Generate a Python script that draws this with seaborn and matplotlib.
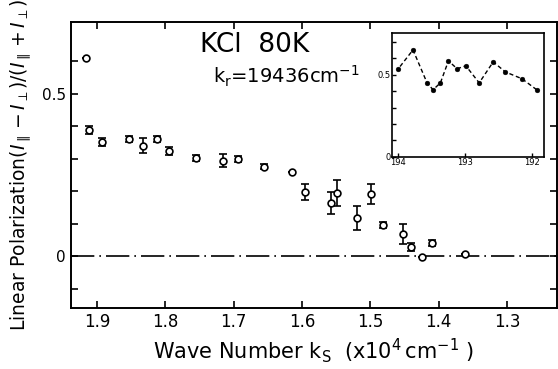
import numpy as np
import pandas as pd
import seaborn as sns
import matplotlib.pyplot as plt

# main panel: linear polarization vs scattered wave number (x10^4 cm^-1)
ks = [1.916, 1.912, 1.893, 1.853, 1.833, 1.812, 1.795, 1.755, 1.716, 1.694,
      1.655, 1.615, 1.596, 1.558, 1.548, 1.519, 1.499, 1.481, 1.452, 1.440,
      1.424, 1.410, 1.362]
pol = [0.610, 0.389, 0.352, 0.361, 0.340, 0.361, 0.324, 0.302, 0.293, 0.299,
       0.275, 0.259, 0.198, 0.164, 0.194, 0.117, 0.191, 0.096, 0.068, 0.028,
       -0.003, 0.040, 0.006]
err = [0.0, 0.012, 0.012, 0.010, 0.022, 0.010, 0.012, 0.008, 0.020, 0.010,
       0.008, 0.0, 0.025, 0.033, 0.040, 0.036, 0.031, 0.010, 0.030, 0.012,
       0.0, 0.010, 0.0]

# inset curve
ins_k = [194.0, 193.78, 193.57, 193.48, 193.37, 193.25, 193.12, 192.99,
         192.79, 192.58, 192.40, 192.15, 191.93]
ins_p = [0.537, 0.652, 0.451, 0.409, 0.451, 0.585, 0.537, 0.555, 0.451,
         0.579, 0.518, 0.476, 0.409]

data = pd.DataFrame({'ks': ks, 'pol': pol, 'err': err})
inset = pd.DataFrame({'k': ins_k, 'p': ins_p})

sns.set_style('ticks')
plt.rcParams['font.family'] = ['DejaVu Sans']
plt.rcParams['xtick.direction'] = 'in'
plt.rcParams['ytick.direction'] = 'in'
for k in ['text.color', 'axes.labelcolor', 'xtick.color', 'ytick.color', 'axes.edgecolor']:
    plt.rcParams[k] = 'black'

fig = plt.figure(figsize=(5.58, 3.69), dpi=100)
ax = fig.add_axes([0.127, 0.165, 0.871, 0.775])

ax.errorbar(data['ks'], data['pol'], yerr=data['err'], fmt='none',
            ecolor='black', elinewidth=1.2, capsize=3, capthick=1.2)
sns.scatterplot(data=data, x='ks', y='pol', ax=ax, marker='o', s=24,
                facecolor='white', edgecolor='black', linewidth=1.2, zorder=3)
ax.axhline(0, color='black', lw=1.2, ls=(0, (14, 3, 1, 3)))

ax.set_xlim(1.938, 1.227)
ax.set_ylim(-0.16, 0.72)
ax.set_xticks([1.9, 1.8, 1.7, 1.6, 1.5, 1.4, 1.3])
ax.set_xticklabels(['1.9', '1.8', '1.7', '1.6', '1.5', '1.4', '1.3'], fontsize=12)
ax.set_yticks(np.arange(-0.1, 0.65, 0.1))
ax.set_yticklabels(['', '0', '', '', '', '', '0.5', ''], fontsize=11)
ax.tick_params(top=True, right=True, length=5, width=1.2)
for s in ax.spines.values():
    s.set_linewidth(1.4)

ax.set_xlabel(r'Wave Number $\mathregular{k_S}$  $(\mathregular{x10^4\,cm^{-1}}$ )', fontsize=15, labelpad=4)
ax.set_ylabel(r'Linear Polarization$(I_{\parallel}-I_{\perp})/(I_{\parallel}+I_{\perp})$', fontsize=13.5, labelpad=6)

ax.text(0.265, 0.895, 'KCl  80K', transform=ax.transAxes, fontsize=19)
ax.text(0.292, 0.785, r'$\mathregular{k_r}$=19436cm$^{\mathregular{-1}}$',
        transform=ax.transAxes, fontsize=14)

# inset
axi = fig.add_axes([0.703, 0.575, 0.272, 0.336])
sns.lineplot(data=inset, x='k', y='p', ax=axi, color='black', lw=1.0,
             ls=(0, (3, 2)))
sns.scatterplot(data=inset, x='k', y='p', ax=axi, color='black', s=12,
                edgecolor='black', zorder=3)
axi.set_xlim(194.09, 191.82)
axi.set_ylim(0, 0.756)
axi.set_xticks([194, 193, 192])
axi.set_xticklabels(['194', '193', '192'], fontsize=6)
axi.set_yticks(np.arange(0, 0.75, 0.1))
axi.set_yticklabels(['0', '', '', '', '', '0.5', '', ''], fontsize=6)
axi.tick_params(length=3, width=1.0, pad=1)
axi.set_xlabel('')
axi.set_ylabel('')
for s in axi.spines.values():
    s.set_linewidth(1.2)

fig.savefig('out.png', dpi=100)
